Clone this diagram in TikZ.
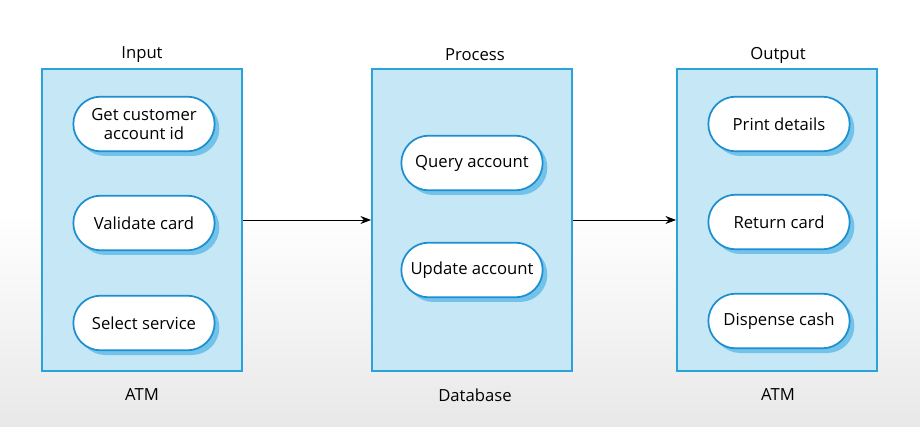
\documentclass[tikz,border=0pt]{standalone}
\usepackage{fontspec}
\setmainfont{Open Sans}
\usetikzlibrary{arrows.meta, positioning, shadows, shapes.misc}
\definecolor{panelblue}{HTML}{C6E7F6}
\definecolor{edgeblue}{HTML}{29A3DA}
\definecolor{pillblue}{HTML}{1C8FD0}
\definecolor{shadeblue}{HTML}{72C2EA}

\begin{document}
\begin{tikzpicture}[x=0.75pt, y=-0.75pt,
    panel/.style={rectangle, draw=edgeblue, line width=1.4pt, fill=panelblue,
        minimum width=150pt, minimum height=227pt},
    pill/.style={rounded rectangle, draw=pillblue, line width=1.3pt, fill=white,
        font=\fontsize{12.5}{14}\selectfont, align=center,
        minimum width=108pt, minimum height=41pt, inner sep=1pt,
        drop shadow={shadow xshift=3.5pt, shadow yshift=-3.5pt, fill=shadeblue, opacity=1}},
    arr/.style={-{Stealth[length=8pt, width=6pt]}, line width=0.6pt, black},
    head/.style={font=\fontsize{12.5}{14}\selectfont, text=black}
]
    \fill[top color=white, bottom color=black!9, middle color=white] (0,0) rectangle (920,427);
    \useasboundingbox (0,0) rectangle (920,427);

    % panels
    \node[panel] (input) at (142,220) {};
    \node[panel] (process) at (472,220) {};
    \node[panel] (output) at (777,220) {};

    \node[head] (inputlbl) at (142,55) {Input};
    \node[head] (processlbl) at (475,55) {Process};
    \node[head] (outputlbl) at (778,55) {Output};
    \node[head] (inputsys) at (142,395) {ATM};
    \node[head] (processsys) at (475,395) {Database};
    \node[head] (outputsys) at (778,395) {ATM};

    % input steps
    \node[pill] (getid) at (144,124) {Get customer\\account id};
    \node[pill] (validate) at (144,223) {Validate card};
    \node[pill] (select) at (144,323) {Select service};

    % process steps
    \node[pill] (query) at (472,163) {Query account};
    \node[pill] (update) at (472,270) {Update account};

    % output steps
    \node[pill] (print) at (779,124) {Print details};
    \node[pill] (return) at (779,222) {Return card};
    \node[pill] (dispense) at (779,321) {Dispense cash};

    \draw[arr] (input.east) -- (process.west);
    \draw[arr] (process.east) -- (output.west);
\end{tikzpicture}
\end{document}
